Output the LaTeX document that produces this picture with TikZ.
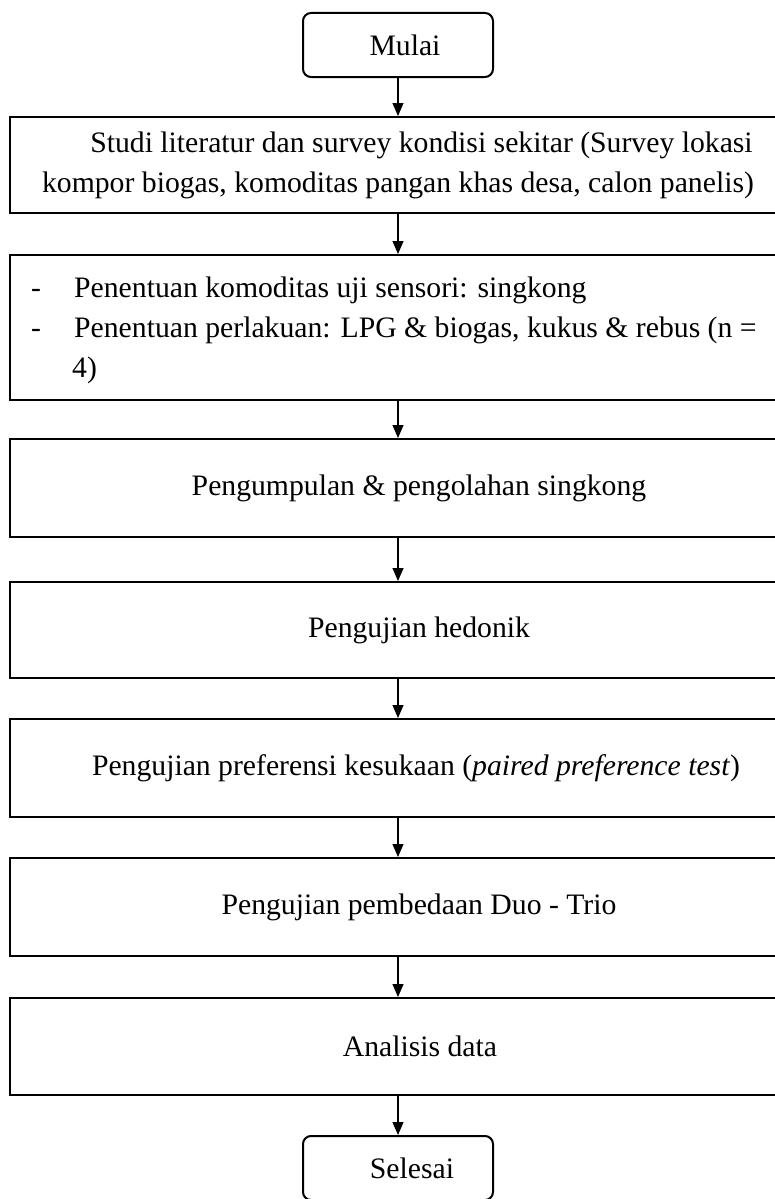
\documentclass[tikz,border=0pt]{standalone}
\usepackage{fontspec}
\setmainfont{Liberation Serif}
\usetikzlibrary{arrows.meta}
\begin{document}
\begin{tikzpicture}[x=1pt,y=-1pt,
  every node/.style={font=\fontsize{29.7pt}{40pt}\selectfont, text=black},
  procbox/.style={draw=black, line width=2pt, minimum width=776pt, inner sep=0pt, align=center},
  termbox/.style={draw=black, line width=2pt, rounded corners=8pt, minimum width=190pt, minimum height=64pt, inner sep=0pt},
  flow/.style={line width=1.1pt, -{Triangle[length=13pt,width=11pt]}}]
\useasboundingbox (0,0) rectangle (775,1199);
\fill[white] (0,0) rectangle (775,1199);
\node[termbox] (start) at (398,45) {\hspace*{14pt}Mulai};
\node[procbox, minimum height=96pt] (b2) at (398,165)
  {\hspace*{47pt}Studi literatur dan survey kondisi sekitar (Survey lokasi\\kompor biogas, komoditas pangan khas desa, calon panelis)};
\node[procbox, minimum height=145pt] (b3) at (398,327.5) {};
\node[anchor=west, align=left, inner sep=0pt] (b3t) at ([xshift=22pt,yshift=-3pt]b3.west)
  {\makebox[43pt][l]{-}Penentuan komoditas uji sensori: singkong\\
   \makebox[43pt][l]{-}Penentuan perlakuan: LPG \& biogas, kukus \& rebus (n =\\
   \hspace*{41pt}4)};
\node[procbox, minimum height=98pt] (b4) at (398,488) {\hspace*{42pt}Pengumpulan \& pengolahan singkong};
\node[procbox, minimum height=96pt] (b5) at (398,630) {\hspace*{42pt}Pengujian hedonik};
\node[procbox, minimum height=98pt] (b6) at (398,768) {\hspace*{36pt}Pengujian preferensi kesukaan (\textit{paired preference test})};
\node[procbox, minimum height=98pt] (b7) at (398,907) {\hspace*{42pt}Pengujian pembedaan Duo - Trio};
\node[procbox, minimum height=97pt] (b8) at (398,1046.5) {\hspace*{44pt}Analisis data};
\node[termbox] (stop) at (398,1168) {\hspace*{28pt}Selesai};
\draw[flow] (start) -- (b2);
\draw[flow] (b2) -- (b3);
\draw[flow] (b3) -- (b4);
\draw[flow] (b4) -- (b5);
\draw[flow] (b5) -- (b6);
\draw[flow] (b6) -- (b7);
\draw[flow] (b7) -- (b8);
\draw[flow] (b8) -- (stop);
\end{tikzpicture}
\end{document}
